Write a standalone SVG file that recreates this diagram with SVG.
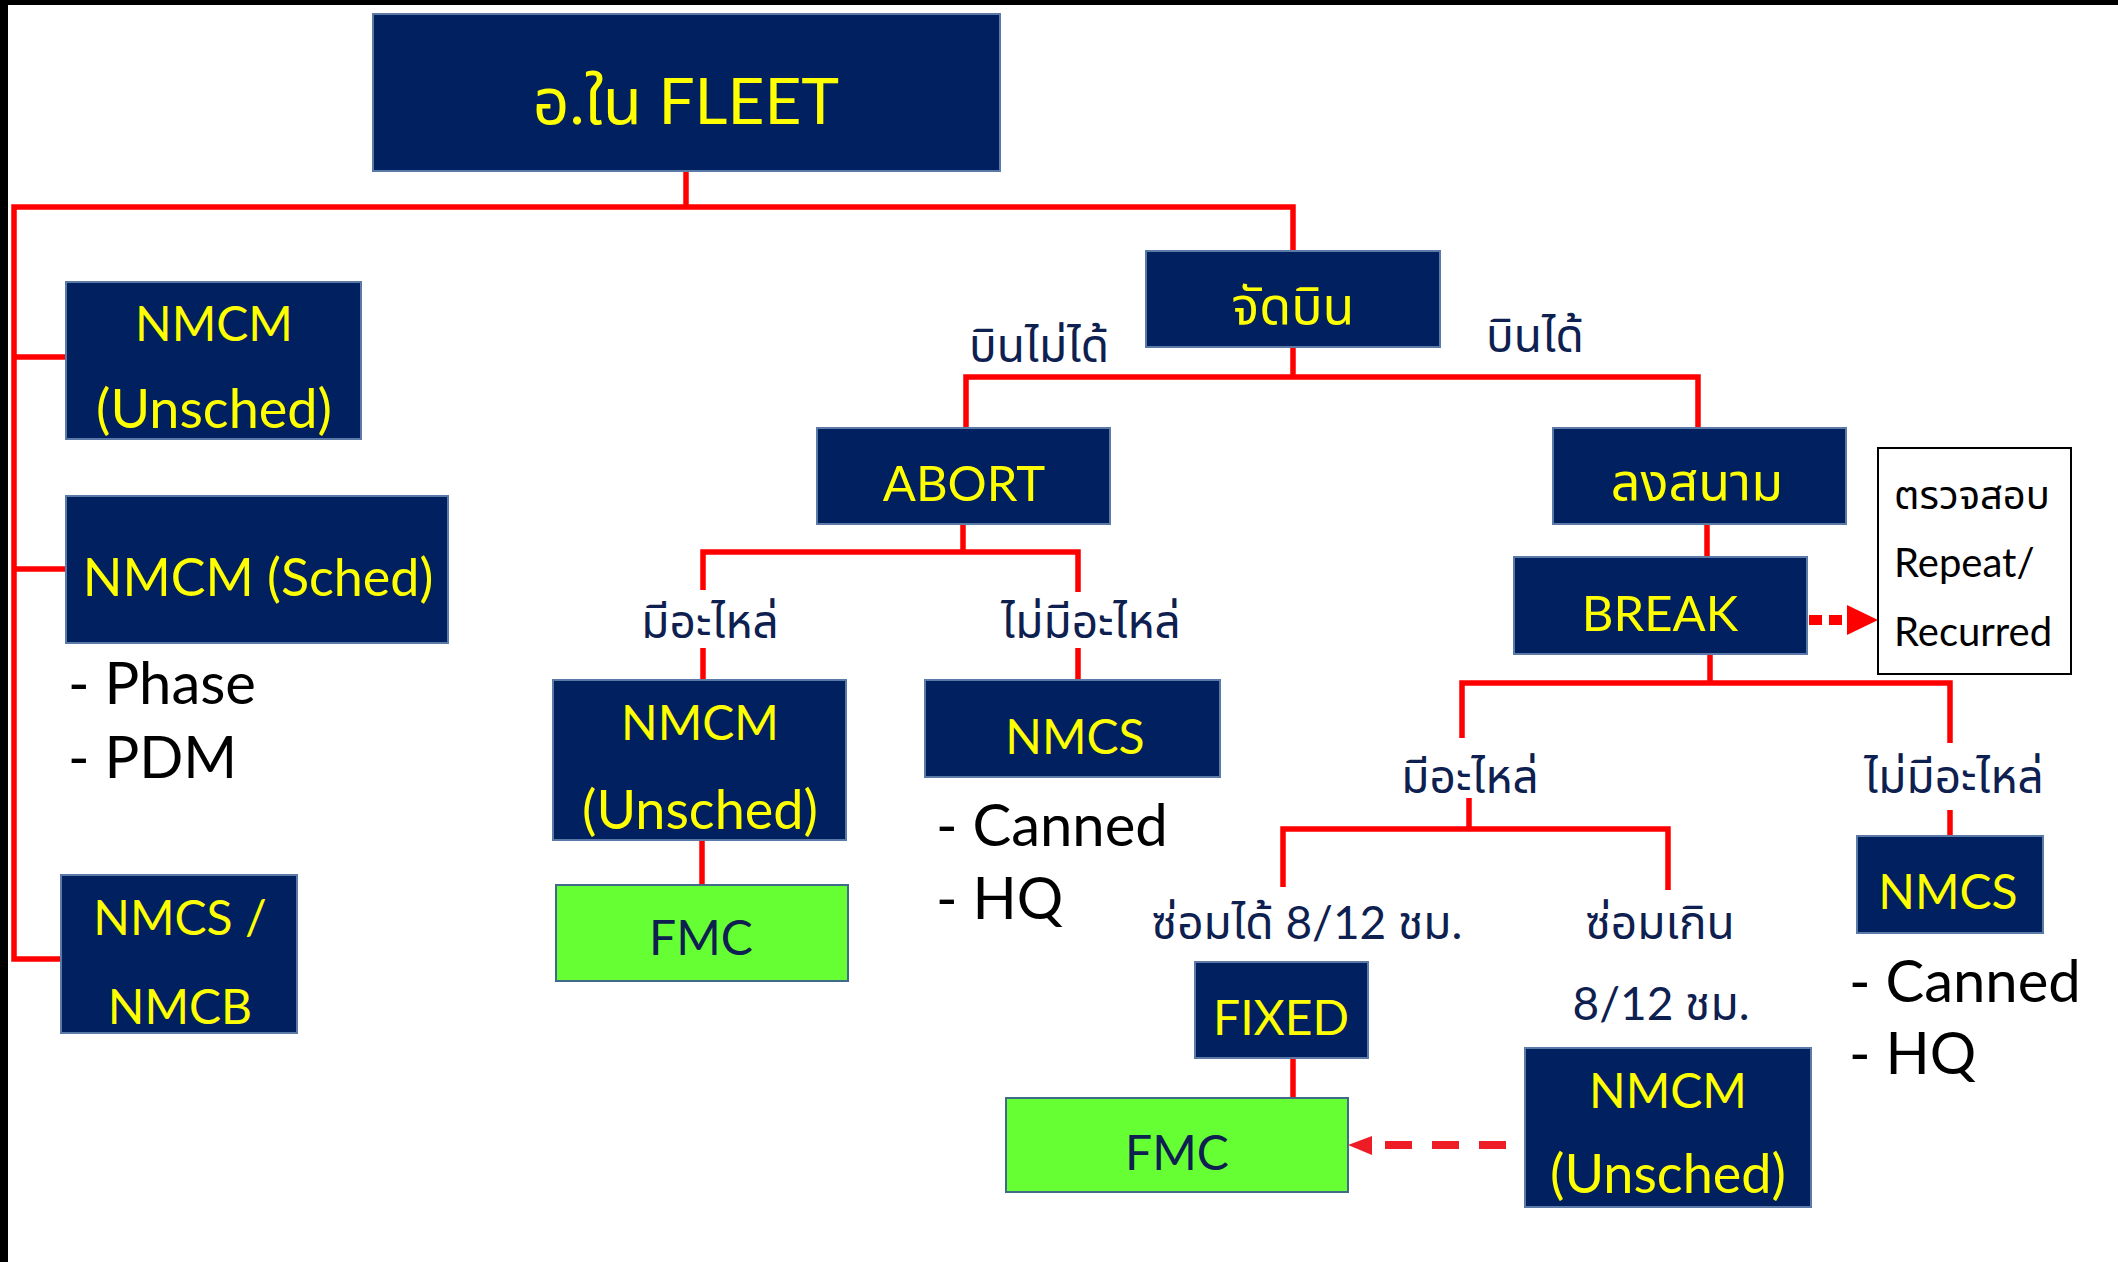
<svg xmlns="http://www.w3.org/2000/svg" width="2118" height="1262" viewBox="0 0 2118 1262">
<defs>
<style>
text{font-family:Lato,"Noto Sans Thai","Noto Sans","DejaVu Sans",sans-serif}
.nb{fill:#002060;stroke:#5b7aa8;stroke-width:2}
.gb{fill:#66ff33;stroke:#3f6a8a;stroke-width:2}
.wb{fill:#fff;stroke:#000;stroke-width:2}
.yt{fill:#ffff00;font-size:52px;text-anchor:middle}
.cp{font-size:48px}
.un{font-size:54px}
.gt{fill:#0d2050;font-size:48px;text-anchor:middle}
.lb{fill:#0d2050;font-size:46px;text-anchor:middle}
.bl{fill:#000;font-size:58px}
.sm{fill:#000;font-size:40px}
.cn{fill:none;stroke:#ff0000;stroke-width:5.5}
</style>
</defs>
<rect x="0" y="0" width="2118" height="1262" fill="#fff"/>
<rect x="0" y="0" width="2118" height="5" fill="#000"/>
<rect x="0" y="0" width="8" height="1262" fill="#000"/>

<g id="connectors">
<path class="cn" d="M686 171V207"/>
<path class="cn" stroke-width="6" d="M61 959H14V207H1293V251"/>
<path class="cn" stroke-width="6" d="M14 357H66M14 569H66"/>
<path class="cn" d="M1293 347V377M966 428V377H1698V428"/>
<path class="cn" d="M963 524V552M703 590V552H1078V592M703 648V680M1078 648V679"/>
<path class="cn" d="M702 840V885"/>
<path class="cn" d="M1707 524V557"/>
<path class="cn" d="M1710 654V683M1462 738V683H1950V743M1950 810V836"/>
<path class="cn" d="M1469 798V829M1283 887V829H1668V890"/>
<path class="cn" d="M1293 1058V1098"/>
<path fill="none" stroke="#ff0000" stroke-width="10" stroke-dasharray="13 7" d="M1809 620H1846"/>
<path d="M1847 605L1878 620L1847 635Z" fill="#ff0000"/>
<path fill="none" stroke="#ee1c25" stroke-width="8" stroke-dasharray="27 20" d="M1506 1145H1372"/>
<path d="M1372 1136L1348 1145L1372 1155Z" fill="#ee1c25"/>
</g>

<g id="n-fleet"><rect class="nb" x="373" y="14" width="627" height="157"/><text class="yt" x="686" y="124" style="font-size:64px">อ.ใน FLEET</text></g>
<g id="n-nmcm-unsched-left"><rect class="nb" x="66" y="282" width="295" height="157"/><text class="yt cp" x="214" y="341">NMCM</text><text class="yt un" x="214" y="428">(Unsched)</text></g>
<g id="n-nmcm-sched"><rect class="nb" x="66" y="496" width="382" height="147"/><text class="yt" x="258" y="596">NMCM (Sched)</text></g>
<text class="bl" x="68" y="704">- Phase</text>
<text class="bl" x="68" y="778">- PDM</text>
<g id="n-nmcs-nmcb"><rect class="nb" x="61" y="875" width="236" height="158"/><text class="yt cp" x="180" y="935">NMCS /</text><text class="yt cp" x="180" y="1024">NMCB</text></g>

<g id="n-jadbin"><rect class="nb" x="1146" y="251" width="294" height="96"/><text class="yt" x="1293" y="324">จัดบิน</text></g>
<text class="lb" x="1039" y="362">บินไม่ได้</text>
<text class="lb" x="1535" y="352">บินได้</text>

<g id="n-abort"><rect class="nb" x="817" y="428" width="293" height="96"/><text class="yt" x="964" y="501" style="font-size:49px">ABORT</text></g>
<text class="lb" x="710" y="638">มีอะไหล่</text>
<text class="lb" x="1091" y="638">ไม่มีอะไหล่</text>
<g id="n-nmcm-unsched-mid"><rect class="nb" x="553" y="680" width="293" height="160"/><text class="yt cp" x="700" y="740">NMCM</text><text class="yt un" x="700" y="829">(Unsched)</text></g>
<g id="n-fmc-left"><rect class="gb" x="556" y="885" width="292" height="96"/><text class="gt" x="701" y="955">FMC</text></g>
<g id="n-nmcs-mid"><rect class="nb" x="925" y="680" width="295" height="97"/><text class="yt cp" x="1075" y="754">NMCS</text></g>
<text class="bl" x="936" y="846">- Canned</text>
<text class="bl" x="936" y="919">- HQ</text>

<g id="n-longsanam"><rect class="nb" x="1553" y="428" width="293" height="96"/><text class="yt" x="1697" y="500">ลงสนาม</text></g>
<g id="n-break"><rect class="nb" x="1514" y="557" width="293" height="97"/><text class="yt" x="1660" y="631" style="font-size:49px">BREAK</text></g>
<g id="n-check"><rect class="wb" x="1878" y="448" width="193" height="226"/><text class="sm" x="1894" y="509">ตรวจสอบ</text><text class="sm" x="1894" y="577">Repeat/</text><text class="sm" x="1894" y="646">Recurred</text></g>
<text class="lb" x="1470" y="793">มีอะไหล่</text>
<text class="lb" x="1954" y="793">ไม่มีอะไหล่</text>
<g id="n-nmcs-right"><rect class="nb" x="1857" y="836" width="186" height="97"/><text class="yt cp" x="1948" y="909">NMCS</text></g>
<text class="bl" x="1849" y="1002">- Canned</text>
<text class="bl" x="1849" y="1074">- HQ</text>
<text class="lb" x="1307" y="939">ซ่อมได้ 8/12 ชม.</text>
<text class="lb" x="1660" y="939">ซ่อมเกิน</text>
<text class="lb" x="1661" y="1020">8/12 ชม.</text>
<g id="n-fixed"><rect class="nb" x="1195" y="962" width="173" height="96"/><text class="yt" x="1281" y="1035" style="font-size:48px">FIXED</text></g>
<g id="n-fmc-right"><rect class="gb" x="1006" y="1098" width="342" height="94"/><text class="gt" x="1177" y="1170">FMC</text></g>
<g id="n-nmcm-unsched-right"><rect class="nb" x="1525" y="1048" width="286" height="159"/><text class="yt cp" x="1668" y="1108">NMCM</text><text class="yt un" x="1668" y="1193">(Unsched)</text></g>
</svg>
